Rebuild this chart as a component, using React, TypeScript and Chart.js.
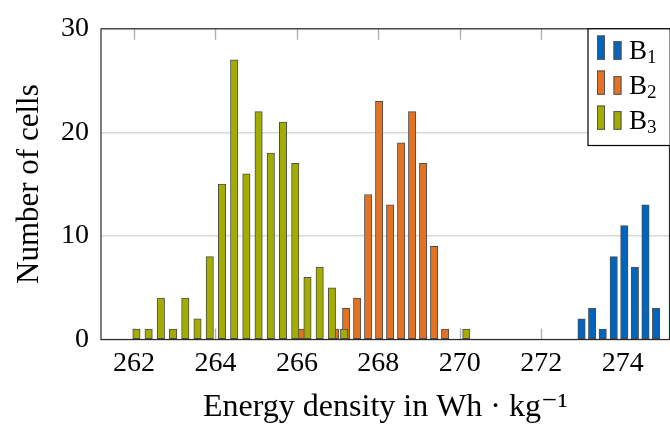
import { useEffect, useRef } from "react";
import { Chart, registerables } from "chart.js";

Chart.register(...registerables);

// ---- data ----
const seriesNames = ["B₁", "B₂", "B₃"];
const seriesColors = ["#0065BD", "#E37222", "#A2AD00"];

const b1Energy = [272.99, 273.25, 273.51, 273.78, 274.04, 274.3, 274.56, 274.82];
const b1Counts = [2, 3, 1, 8, 11, 7, 13, 3];

const b2Energy = [266.13, 266.94, 267.21, 267.48, 267.75, 268.02, 268.29, 268.56, 268.83, 269.1, 269.37, 269.64];
const b2Counts = [1, 1, 3, 4, 14, 23, 13, 19, 22, 17, 9, 1];

const b3Energy = [262.06, 262.36, 262.66, 262.96, 263.26, 263.56, 263.86, 264.16, 264.46, 264.76, 265.06, 265.36, 265.66, 265.96, 266.26, 266.56, 266.86, 267.16, 270.16];
const b3Counts = [1, 1, 4, 1, 4, 2, 8, 15, 27, 16, 22, 18, 21, 17, 6, 7, 5, 1, 1];

const xTicks = [262, 264, 266, 268, 270, 272, 274];
const yTicks = [0, 10, 20, 30];
const xRange = [261.19, 275.15];
const yRange = [0, 30];

const xTitle = "Energy density in Wh · kg⁻¹";
const yTitle = "Number of cells";

const FONT = "'Liberation Serif', 'DejaVu Serif', serif";

const toPoints = (xs: number[], ys: number[]) => xs.map((x, i) => ({ x, y: ys[i] }));

const frameLegendPlugin = {
  id: "frameLegend",
  beforeDatasetsDraw(chart: any) {
    const { ctx, chartArea: ca } = chart;
    const xs = chart.scales.x;
    ctx.save();
    ctx.strokeStyle = "#b0b0b0";
    ctx.lineWidth = 1.4;
    for (const t of xs.ticks) {
      const px = Math.round(xs.getPixelForValue(t.value)) + 0.5;
      ctx.beginPath();
      ctx.moveTo(px, ca.bottom);
      ctx.lineTo(px, ca.bottom - 11);
      ctx.moveTo(px, ca.top);
      ctx.lineTo(px, ca.top + 11);
      ctx.stroke();
    }
    ctx.restore();
  },
  afterDatasetsDraw(chart: any) {
    const { ctx, chartArea: ca } = chart;
    ctx.save();
    ctx.strokeStyle = "#2b2b2b";
    ctx.lineWidth = 1.2;
    ctx.strokeRect(ca.left, ca.top, ca.right - ca.left, ca.bottom - ca.top);

    // legend box
    const L = ca.right - 81.5;
    const T = ca.top;
    ctx.fillStyle = "#ffffff";
    ctx.fillRect(L, T, ca.right - L, 116.7);
    ctx.strokeStyle = "#000000";
    ctx.lineWidth = 1.2;
    ctx.strokeRect(L, T, ca.right - L + 2, 116.7);

    chart.data.datasets.forEach((ds: any, i: number) => {
      const yb = T + 31 + 35 * i;
      ctx.fillStyle = ds.backgroundColor;
      ctx.strokeStyle = "#555555";
      ctx.lineWidth = 1;
      ctx.fillRect(L + 9, yb - 24.3, 8, 24.3);
      ctx.strokeRect(L + 9.5, yb - 23.8, 7, 23.3);
      ctx.fillRect(L + 25.5, yb - 18.7, 8, 18.7);
      ctx.strokeRect(L + 26, yb - 18.2, 7, 17.7);
      const label: string = ds.label;
      const base = label.slice(0, 1);
      const subMap: Record<string, string> = { "₁": "1", "₂": "2", "₃": "3" };
      const sub = subMap[label.slice(1)] ?? label.slice(1);
      ctx.fillStyle = "#000000";
      ctx.textBaseline = "alphabetic";
      ctx.textAlign = "left";
      ctx.font = `27px ${FONT}`;
      ctx.fillText(base, L + 41, yb - 1);
      const w = ctx.measureText(base).width;
      ctx.font = `19px ${FONT}`;
      ctx.fillText(sub, L + 41 + w, yb + 3);
    });
    ctx.restore();
  },
};

export default function App() {
  const canvasRef = useRef<HTMLCanvasElement | null>(null);

  useEffect(() => {
    const canvas = canvasRef.current;
    if (!canvas) return;
    const energies = [b1Energy, b2Energy, b3Energy];
    const counts = [b1Counts, b2Counts, b3Counts];
    const chart = new Chart(canvas, {
      type: "bar",
      data: {
        datasets: seriesNames.map((name, i) => ({
          label: name,
          data: toPoints(energies[i], counts[i]),
          backgroundColor: seriesColors[i],
          borderColor: "#4d4d4d",
          borderWidth: 1,
          borderSkipped: false,
          barThickness: 7.4,
          grouped: false,
          order: 3 - i,
        })),
      },
      options: {
        animation: false,
        responsive: false,
        devicePixelRatio: 1,
        layout: { padding: { top: 25, right: 0.5, left: 0, bottom: 0 } },
        plugins: {
          legend: { display: false },
          tooltip: { enabled: false },
        },
        scales: {
          x: {
            type: "linear",
            offset: false,
            min: xRange[0],
            max: xRange[1],
            afterBuildTicks: (scale: any) => {
              scale.ticks = xTicks.map((v) => ({ value: v }));
            },
            afterFit: (scale: any) => {
              scale.height = 85.5;
            },
            grid: { display: false, drawTicks: false, offset: false },
            border: { display: false },
            ticks: {
              color: "#000",
              padding: 7,
              maxRotation: 0,
              autoSkip: false,
              font: { family: FONT, size: 28 },
            },
            title: {
              display: true,
              text: xTitle,
              color: "#000",
              font: { family: FONT, size: 32 },
              padding: { top: 0, bottom: -2 },
            },
          },
          y: {
            type: "linear",
            min: yRange[0],
            max: yRange[1],
            afterBuildTicks: (scale: any) => {
              scale.ticks = yTicks.map((v) => ({ value: v }));
            },
            afterFit: (scale: any) => {
              scale.width = 101;
            },
            grid: { color: "#d9d9d9", lineWidth: 1.5, drawTicks: false },
            border: { display: false },
            ticks: {
              color: "#000",
              padding: 12,
              font: { family: FONT, size: 28 },
            },
            title: {
              display: true,
              text: yTitle,
              color: "#000",
              font: { family: FONT, size: 31 },
              padding: { top: 11, bottom: 0 },
            },
          },
        },
      },
      plugins: [frameLegendPlugin],
    } as any);
    return () => chart.destroy();
  }, []);

  return (
    <div style={{ position: "absolute", left: 0, top: 0, width: 670, height: 425, background: "#fff" }}>
      <canvas ref={canvasRef} width={670} height={425} style={{ width: 670, height: 425 }} />
    </div>
  );
}
